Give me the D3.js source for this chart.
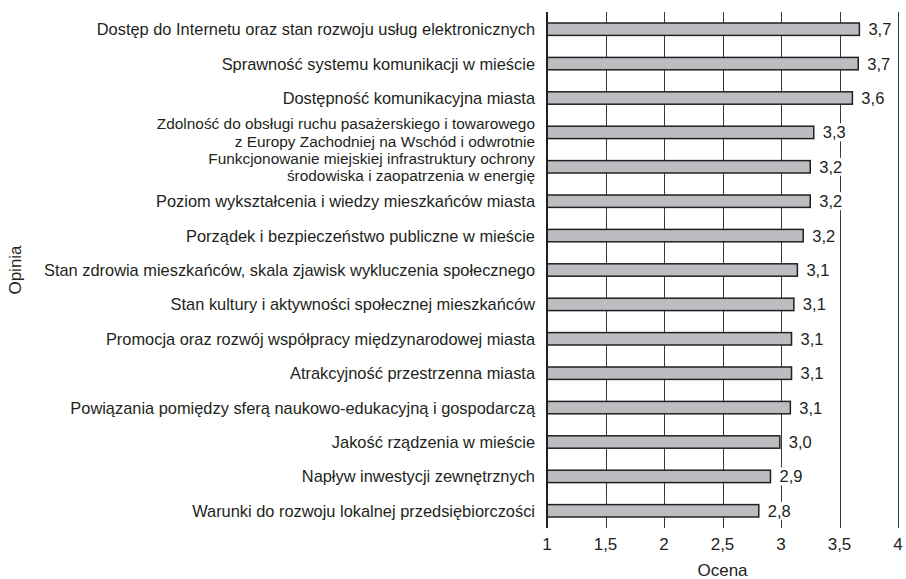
<!DOCTYPE html>
<html>
<head>
<meta charset="utf-8">
<script src="https://cdn.jsdelivr.net/npm/d3@7"></script>
<style>
  body { margin: 0; background: #fff; }
  text { font-family: "Liberation Sans", Arial, sans-serif; fill: #231f20; }
</style>
</head>
<body>
<div id="chart"></div>
<script>
'use strict';

// opinie (od góry) - linie etykiet rozdzielone '\n'
var categories = [
  'Dostęp do Internetu oraz stan rozwoju usług elektronicznych',
  'Sprawność systemu komunikacji w mieście',
  'Dostępność komunikacyjna miasta',
  'Zdolność do obsługi ruchu pasażerskiego i towarowego\nz Europy Zachodniej na Wschód i odwrotnie',
  'Funkcjonowanie miejskiej infrastruktury ochrony\nśrodowiska i zaopatrzenia w energię',
  'Poziom wykształcenia i wiedzy mieszkańców miasta',
  'Porządek i bezpieczeństwo publiczne w mieście',
  'Stan zdrowia mieszkańców, skala zjawisk wykluczenia społecznego',
  'Stan kultury i aktywności społecznej mieszkańców',
  'Promocja oraz rozwój współpracy międzynarodowej miasta',
  'Atrakcyjność przestrzenna miasta',
  'Powiązania pomiędzy sferą naukowo-edukacyjną i gospodarczą',
  'Jakość rządzenia w mieście',
  'Napływ inwestycji zewnętrznych',
  'Warunki do rozwoju lokalnej przedsiębiorczości'
];
var values = [3.67, 3.66, 3.61, 3.28, 3.25, 3.25, 3.19, 3.14, 3.11, 3.09, 3.09, 3.08, 2.99, 2.91, 2.81];
var valueLabels = ['3,7', '3,7', '3,6', '3,3', '3,2', '3,2', '3,2', '3,1', '3,1', '3,1', '3,1', '3,1', '3,0', '2,9', '2,8'];
var ticks = [1, 1.5, 2, 2.5, 3, 3.5, 4];
var tickLabels = ['1', '1,5', '2', '2,5', '3', '3,5', '4'];

var width = 906, height = 579;
var svg = d3.select('#chart').append('svg')
  .attr('width', width)
  .attr('height', height);

var x = d3.scaleLinear().domain([1, 4]).range([547, 898]);
var y = d3.scaleBand().domain(categories).range([12, 528]).paddingInner(0.64).paddingOuter(0.32);

// linie siatki
svg.append('g').selectAll('line')
  .data(ticks.slice(1))
  .enter()
  .append('line')
  .attr('x1', function(d) { return Math.round(x(d)) + 0.5; })
  .attr('x2', function(d) { return Math.round(x(d)) + 0.5; })
  .attr('y1', 12)
  .attr('y2', 528)
  .attr('stroke', '#3a3a3a')
  .attr('stroke-width', 1);

// słupki
svg.append('g').selectAll('rect')
  .data(values)
  .enter()
  .append('rect')
  .attr('x', x(1))
  .attr('y', function(d, i) { return y(categories[i]); })
  .attr('width', function(d) { return x(d) - x(1); })
  .attr('height', y.bandwidth())
  .attr('fill', '#bcbdc0')
  .attr('stroke', '#231f20')
  .attr('stroke-width', 1.5);

// etykiety wartości (z białym tłem)
var vl = svg.append('g').selectAll('g')
  .data(values)
  .enter()
  .append('g')
  .attr('transform', function(d, i) {
    return 'translate(' + (x(d) + 8) + ',' + (y(categories[i]) + y.bandwidth() / 2) + ')';
  });
vl.append('rect')
  .attr('x', 0)
  .attr('y', -9)
  .attr('width', 27)
  .attr('height', 18)
  .attr('fill', '#fff');
vl.append('text')
  .attr('x', 1)
  .attr('dy', '0.36em')
  .attr('font-size', '16.5px')
  .text(function(d, i) { return valueLabels[i]; });

// oś Y
svg.append('line')
  .attr('x1', x(1))
  .attr('x2', x(1))
  .attr('y1', 12)
  .attr('y2', 528)
  .attr('stroke', '#231f20')
  .attr('stroke-width', 2);

// etykiety kategorii - każda linia osobno, dwuliniowe nieco mniejsze
var lineH = 17.3;
var cat = svg.append('g').selectAll('g')
  .data(categories)
  .enter()
  .append('g');
cat.each(function(d) {
  var lines = d.split('\n');
  var fs = lines.length > 1 ? 15.4 : 16.4;
  var cy = y(d) + y.bandwidth() / 2;
  var el = d3.select(this);
  lines.forEach(function(l, k) {
    el.append('text')
      .attr('text-anchor', 'end')
      .attr('font-size', fs + 'px')
      .attr('x', 535)
      .attr('y', cy + 0.36 * fs + (k - (lines.length - 1) / 2) * lineH)
      .text(l);
  });
});

// etykiety osi X
svg.append('g').selectAll('text')
  .data(ticks)
  .enter()
  .append('text')
  .attr('x', function(d) { return x(d); })
  .attr('y', 550)
  .attr('text-anchor', 'middle')
  .attr('font-size', '17px')
  .text(function(d, i) { return tickLabels[i]; });

svg.append('text')
  .attr('x', x(2.5))
  .attr('y', 576)
  .attr('text-anchor', 'middle')
  .attr('font-size', '17px')
  .text('Ocena');

svg.append('text')
  .attr('transform', 'translate(21,270) rotate(-90)')
  .attr('text-anchor', 'middle')
  .attr('font-size', '17px')
  .text('Opinia');
</script>
</body>
</html>
